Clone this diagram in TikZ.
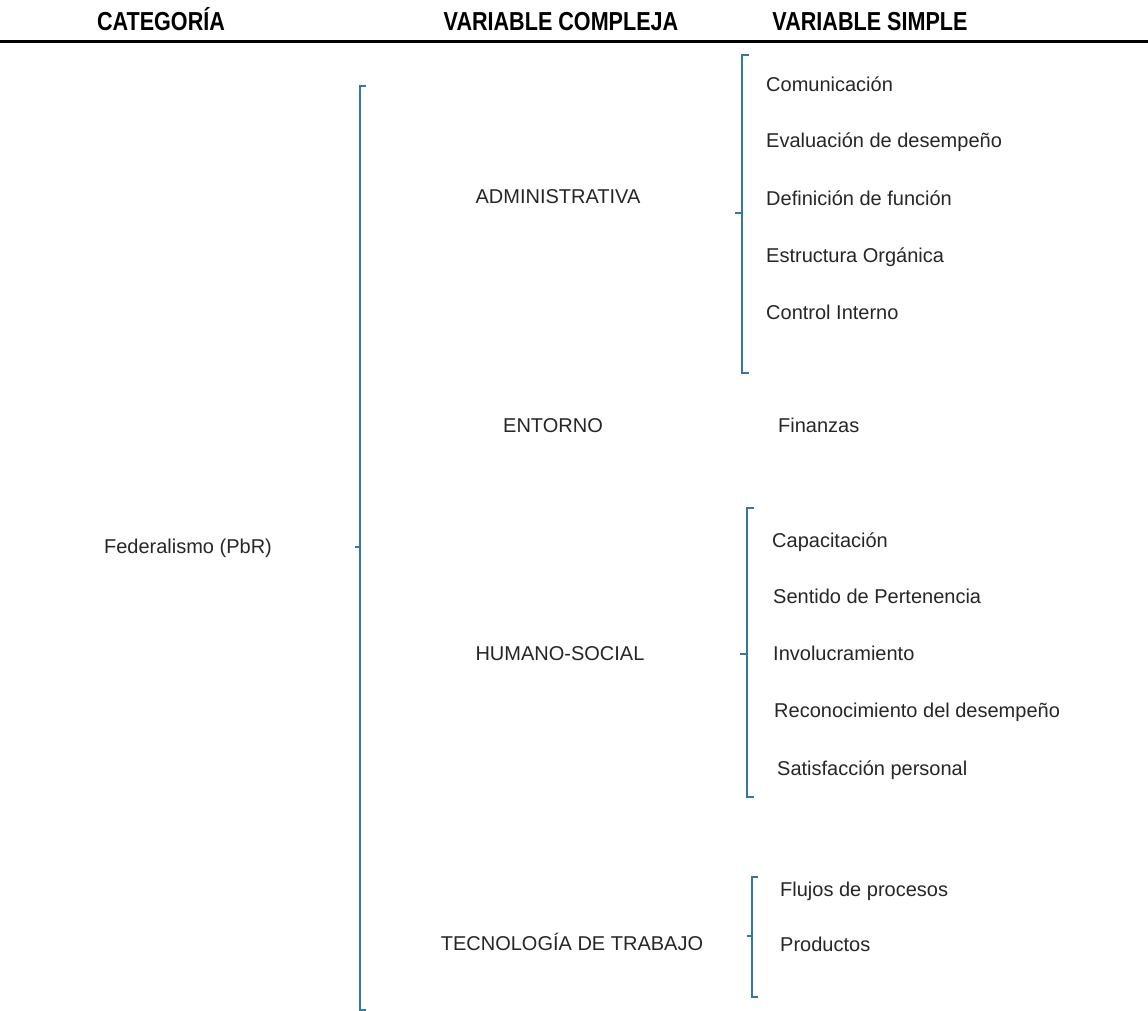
\documentclass[tikz,border=0pt]{standalone}
\usepackage{fontspec}
\setmainfont{Liberation Sans}
\definecolor{brk}{HTML}{3577A0}
\begin{document}
\begin{tikzpicture}[x=1pt,y=-1pt,
  hdr/.style={font=\fontsize{26}{30}\selectfont\bfseries, inner sep=0pt, anchor=base, xscale=0.83, transform shape},
  cx/.style={font=\fontsize{20}{24}\selectfont, inner sep=0pt, anchor=base, text=black!85},
  lt/.style={font=\fontsize{20}{24}\selectfont, inner sep=0pt, anchor=base west, text=black!85},
  brace/.style={draw=brk, line width=1.8pt}]
\useasboundingbox (0,0) rectangle (1148,1011);
% headers
\node[hdr] (h1) at (161,31) {CATEGORÍA};
\node[hdr] (h2) at (561,31) {VARIABLE COMPLEJA};
\node[hdr] (h3) at (870,31) {VARIABLE SIMPLE};
\draw[line width=3pt] (0,42) -- (1148,42);
% brackets
\draw[brace] (366,86) -- (360,86) -- (360,1010) -- (366,1010);
\draw[brace] (360,547) -- (355,547);
\draw[brace] (749,55) -- (742,55) -- (742,373) -- (749,373);
\draw[brace] (742,213) -- (735,213);
\draw[brace] (754,508) -- (747,508) -- (747,797) -- (754,797);
\draw[brace] (747,654) -- (740,654);
\draw[brace] (758,877) -- (752,877) -- (752,997) -- (758,997);
\draw[brace] (752,936) -- (747,936);
% texts
\node[cx] (fed) at (188,553) {Federalismo (PbR)};
\node[cx] (adm) at (558,204) {ADMINISTRATIVA};
\node[cx] (ent) at (553,432) {ENTORNO};
\node[cx] (hum) at (560,660) {HUMANO-SOCIAL};
\node[cx] (tec) at (572,950) {TECNOLOGÍA DE TRABAJO};
\node[lt] (a1) at (766,92) {Comunicación};
\node[lt] (a2) at (766,148) {Evaluación de desempeño};
\node[lt] (a3) at (766,205) {Definición de función};
\node[lt] (a4) at (766,262) {Estructura Orgánica};
\node[lt] (a5) at (766,319) {Control Interno};
\node[lt] (e1) at (778,432) {Finanzas};
\node[lt] (s1) at (772,547) {Capacitación};
\node[lt] (s2) at (773,603) {Sentido de Pertenencia};
\node[lt] (s3) at (773,660) {Involucramiento};
\node[lt] (s4) at (774,717) {Reconocimiento del desempeño};
\node[lt] (s5) at (777,775) {Satisfacción personal};
\node[lt] (t1) at (780,896) {Flujos de procesos};
\node[lt] (t2) at (780,951) {Productos};
\end{tikzpicture}
\end{document}
